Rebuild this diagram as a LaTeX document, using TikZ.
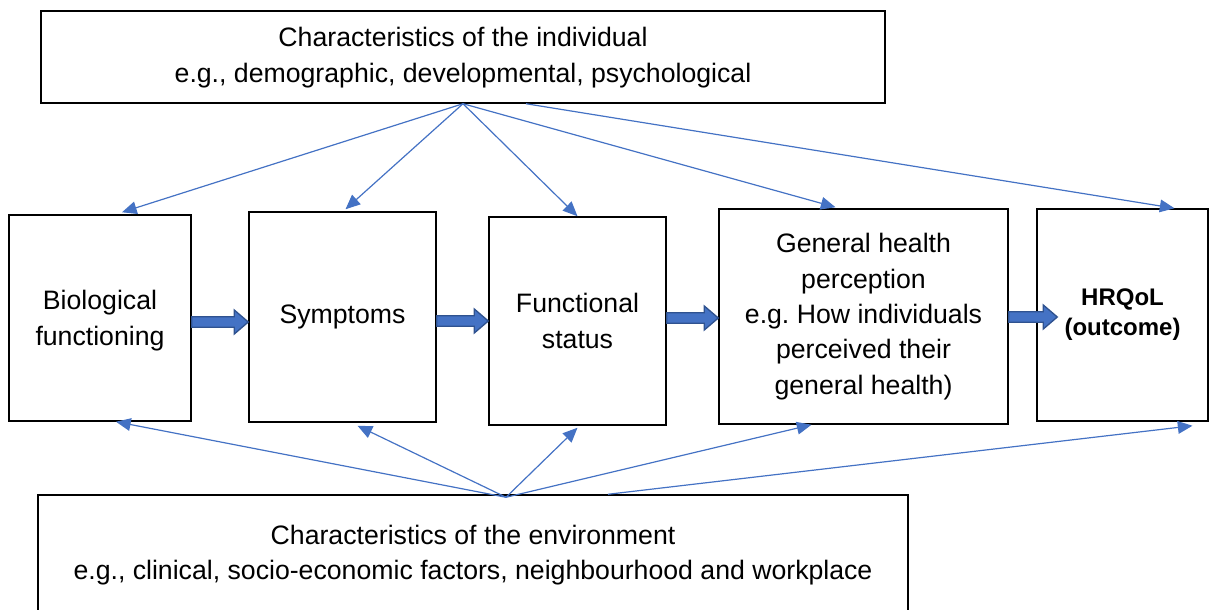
\documentclass[tikz,border=0pt]{standalone}
\usepackage{fontspec}
\setmainfont{Liberation Sans}
\usetikzlibrary{arrows.meta,calc}
\definecolor{linkblue}{HTML}{4472C4}
\definecolor{blkfill}{HTML}{4472C4}
\definecolor{blkedge}{HTML}{2F528F}
\frenchspacing
\begin{document}
\begin{tikzpicture}[x=0.75pt,y=-0.75pt,
  box/.style={draw=black,line width=1.1pt,rectangle,inner sep=0pt,align=center,
    font=\fontsize{20}{26.5}\selectfont},
  link/.style={draw=linkblue,line width=0.9pt,-{Triangle[length=11pt,width=9.5pt]}},
  blockarrow/.style={draw=blkedge,fill=blkfill,line width=1pt,
    to path={let \p1=(\tikztostart), \p2=(\tikztotarget) in
      (\x1,\y1+3.9pt) -- (\x2-10.5pt,\y1+3.9pt) -- (\x2-10.5pt,\y1+9pt)
      -- (\x2,\y1) -- (\x2-10.5pt,\y1-9pt) -- (\x2-10.5pt,\y1-3.9pt)
      -- (\x1,\y1-3.9pt) -- cycle}}]
\useasboundingbox (0,0) rectangle (1214,610);

% context boxes
\node[box,minimum width=633pt,minimum height=69pt] (indiv) at (463,57) {};
\node[align=center,inner sep=0pt,font=\fontsize{20}{26.5}\selectfont] (indivtext) at (463,57.5)
  {Characteristics of the individual\\e.g., demographic, developmental, psychological};
\node[box,minimum width=652.5pt,minimum height=93.75pt] (env) at (473,557.5) {};
\node[align=center,inner sep=0pt,font=\fontsize{20}{26.5}\selectfont] (envtext) at (473,555)
  {Characteristics of the environment\\e.g., clinical, socio-economic factors, neighbourhood and workplace};

% main chain
\node[box,minimum width=136.5pt,minimum height=154.5pt,text depth=0pt] (bio) at (100,318) {Biological\\functioning};
\node[box,minimum width=140.25pt,minimum height=157.5pt] (symp) at (342.5,317) {Symptoms};
\node[box,minimum width=132.75pt,minimum height=156pt] (func) at (577.5,321) {Functional\\status};
\node[box,minimum width=216.75pt,minimum height=161.25pt] (gen) at (863.5,316.5)
  {General health\\perception\\e.g. How individuals\\perceived their\\general health)};
\node[box,minimum width=128.25pt,minimum height=159pt,
  font=\fontsize{18}{22.5}\selectfont\bfseries] (hrqol) at (1122.5,315) {HRQoL\\(outcome)};

% block arrows along the chain
\path[blockarrow] ($(bio.east)+(0,4)$) to (symp.west);
\path[blockarrow] ($(symp.east)+(0,4)$) to (func.west);
\path[blockarrow] ($(func.east)+(0,-3)$) to (gen.west);
\path[blockarrow] ($(gen.east)+(0,0.5)$) to ($(hrqol.west)+(21,0)$);

% influences of the individual
\draw[link] (indiv.south) -- ($(bio.north)+(22,-2)$);
\draw[link] (indiv.south) -- ($(symp.north)+(3,-2)$);
\draw[link] (indiv.south) -- (func.north);
\draw[link] (indiv.south) -- ($(gen.north)+(-28,-1)$);
\draw[link] ($(indiv.south)+(63,0)$) -- ($(hrqol.north)+(52,0)$);

% influences of the environment
\coordinate (envsrc) at ($(env.north)+(33,3)$);
\draw[link] (envsrc) -- ($(bio.south)+(16,0)$);
\draw[link] (envsrc) -- ($(symp.south)+(15,3)$);
\draw[link] (envsrc) -- ($(func.south)+(0,2)$);
\draw[link] (envsrc) -- ($(gen.south)+(-52,0)$);
\draw[link] ($(env.north)+(135,0)$) -- ($(hrqol.south)+(70,4)$);
\end{tikzpicture}
\end{document}
